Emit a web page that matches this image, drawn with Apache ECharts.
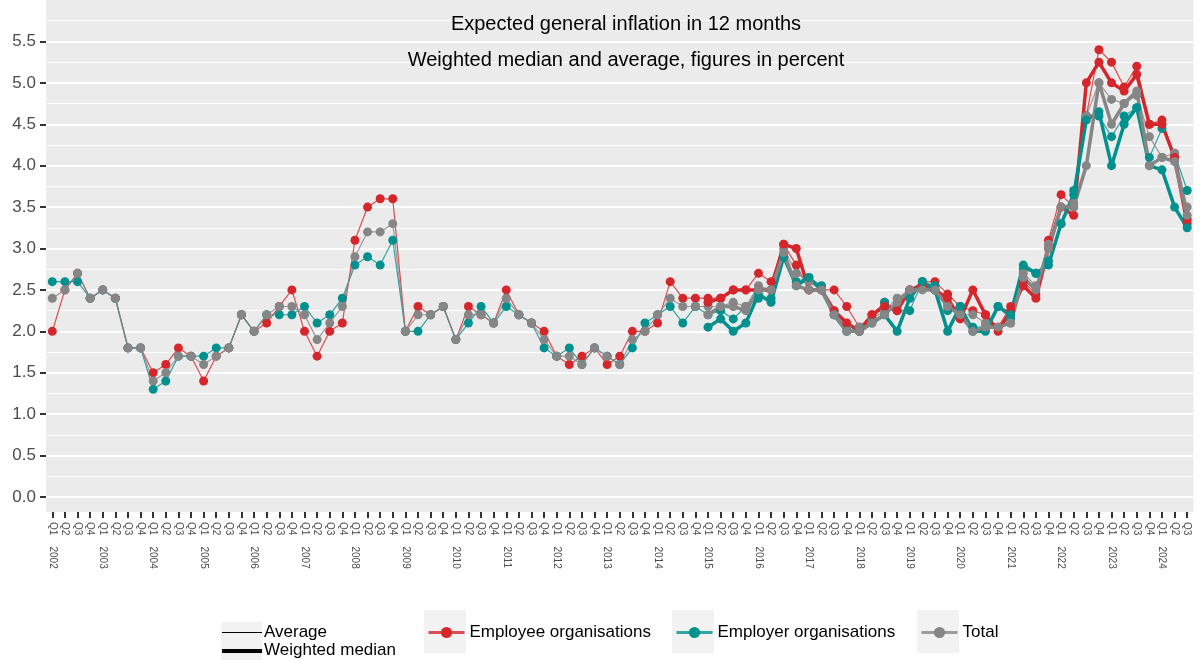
<!DOCTYPE html>
<html>
<head>
<meta charset="utf-8">
<script src="https://cdn.jsdelivr.net/npm/echarts@6/dist/echarts.min.js"></script>
<style>
  html, body { margin: 0; padding: 0; background: #fff; }
  #main { width: 1200px; height: 660px; }
</style>
</head>
<body>
<div id="main"></div>
<script>
// quarters Q1 2002 .. Q3 2024
const years = [2002, 2003, 2004, 2005, 2006, 2007, 2008, 2009, 2010, 2011, 2012, 2013,
  2014, 2015, 2016, 2017, 2018, 2019, 2020, 2021, 2022, 2023, 2024]
const quarterNames = ['Q1', 'Q2', 'Q3', 'Q4']
const yTicks = [0, 0.5, 1, 1.5, 2, 2.5, 3, 3.5, 4, 4.5, 5, 5.5]

// average, whole period
const employeeAvg = [
  2.0, 2.5, 2.7, 2.4, 2.5, 2.4, 1.8, 1.8, 1.5, 1.6, 1.8, 1.7,
  1.4, 1.7, 1.8, 2.2, 2.0, 2.1, 2.3, 2.5, 2.0, 1.7, 2.0, 2.1,
  3.1, 3.5, 3.6, 3.6, 2.0, 2.3, 2.2, 2.3, 1.9, 2.3, 2.2, 2.1,
  2.5, 2.2, 2.1, 2.0, 1.7, 1.6, 1.7, 1.8, 1.6, 1.7, 2.0, 2.0,
  2.1, 2.6, 2.4, 2.4,
  2.4, 2.4, 2.5, 2.5, 2.7, 2.6, 3.05, 2.8, 2.5, 2.5, 2.5, 2.3,
  2.05, 2.2, 2.35, 2.25, 2.5, 2.6, 2.6, 2.45, 2.3, 2.25, 2.2, 2.05,
  2.3, 2.6, 2.45, 3.1, 3.65, 3.5, 4.6, 5.4, 5.25, 4.95, 5.2, 4.5,
  4.55, 4.1, 3.35
]
const employerAvg = [
  2.6, 2.6, 2.6, 2.4, 2.5, 2.4, 1.8, 1.8, 1.3, 1.4, 1.7, 1.7,
  1.7, 1.8, 1.8, 2.2, 2.0, 2.2, 2.2, 2.2, 2.3, 2.1, 2.2, 2.4,
  2.8, 2.9, 2.8, 3.1, 2.0, 2.0, 2.2, 2.3, 1.9, 2.1, 2.3, 2.1,
  2.3, 2.2, 2.1, 1.8, 1.7, 1.8, 1.6, 1.8, 1.7, 1.6, 1.8, 2.1,
  2.2, 2.3, 2.1, 2.3,
  2.2, 2.25, 2.15, 2.3, 2.4, 2.4, 2.9, 2.6, 2.65, 2.55, 2.2, 2.05,
  2.05, 2.15, 2.35, 2.25, 2.25, 2.6, 2.55, 2.25, 2.3, 2.05, 2.05, 2.3,
  2.15, 2.75, 2.7, 2.85, 3.3, 3.7, 4.6, 4.6, 4.35, 4.6, 4.7, 4.1,
  4.45, 4.15, 3.7
]
const totalAvg = [
  2.4, 2.5, 2.7, 2.4, 2.5, 2.4, 1.8, 1.8, 1.4, 1.5, 1.7, 1.7,
  1.6, 1.7, 1.8, 2.2, 2.0, 2.2, 2.3, 2.3, 2.2, 1.9, 2.1, 2.3,
  2.9, 3.2, 3.2, 3.3, 2.0, 2.2, 2.2, 2.3, 1.9, 2.2, 2.2, 2.1,
  2.4, 2.2, 2.1, 1.9, 1.7, 1.7, 1.6, 1.8, 1.7, 1.6, 1.9, 2.0,
  2.2, 2.4, 2.3, 2.3,
  2.3, 2.3, 2.35, 2.3, 2.55, 2.5, 3.0, 2.7, 2.6, 2.5, 2.25, 2.05,
  2.05, 2.15, 2.25, 2.4, 2.5, 2.55, 2.5, 2.3, 2.2, 2.2, 2.1, 2.05,
  2.1, 2.7, 2.55, 3.05, 3.5, 3.55, 4.6, 5.0, 4.8, 4.75, 4.85, 4.35,
  4.1, 4.15, 3.5
]

// weighted median, from Q1 2015
const medianStart = 'Q1 2015'
const employeeMed = [
  2.35, 2.4, 2.5, 2.5, 2.5, 2.5, 3.05, 3.0, 2.5, 2.5, 2.25, 2.1,
  2.0, 2.2, 2.3, 2.25, 2.5, 2.55, 2.5, 2.4, 2.15, 2.5, 2.2, 2.0,
  2.25, 2.55, 2.4, 3.0, 3.5, 3.4, 5.0, 5.25, 5.0, 4.9, 5.1, 4.5,
  4.5, 4.1, 3.3
]
const employerMed = [
  2.05, 2.15, 2.0, 2.1, 2.45, 2.35, 2.9, 2.55, 2.65, 2.5, 2.2, 2.0,
  2.0, 2.1, 2.2, 2.0, 2.4, 2.6, 2.5, 2.0, 2.3, 2.0, 2.0, 2.3,
  2.2, 2.8, 2.7, 2.8, 3.3, 3.65, 4.55, 4.65, 4.0, 4.5, 4.7, 4.0,
  3.95, 3.5, 3.25
]
const totalMed = [
  2.2, 2.3, 2.3, 2.25, 2.5, 2.5, 2.95, 2.55, 2.5, 2.5, 2.2, 2.0,
  2.0, 2.1, 2.2, 2.35, 2.5, 2.5, 2.5, 2.3, 2.2, 2.0, 2.05, 2.05,
  2.1, 2.65, 2.5, 3.0, 3.5, 3.5, 4.0, 5.0, 4.5, 4.75, 4.9, 4.0,
  4.1, 4.05, 3.4
]

const quarters = []
years.forEach(y => quarterNames.forEach(q => quarters.push(q + ' ' + y)))
quarters.length = employeeAvg.length

const RED = '#D5262C'
const TEAL = '#00918F'
const GRAY = '#868686'
const FONT = 'Liberation Sans, Arial, sans-serif'

function padMedian(arr) {
  const start = quarters.indexOf(medianStart)
  return quarters.map((q, i) => (i < start ? null : arr[i - start]))
}

function avgSeries(name, color, data) {
  return {
    name: name,
    type: 'line',
    data: data,
    symbol: 'circle',
    symbolSize: 9,
    showAllSymbol: true,
    itemStyle: { color: color },
    lineStyle: { width: 1.2, color: color, opacity: 0.8 },
    emphasis: { disabled: true },
    animation: false
  }
}

function medSeries(name, color, data) {
  return {
    name: name,
    type: 'line',
    data: padMedian(data),
    symbol: 'circle',
    symbolSize: 9,
    showAllSymbol: true,
    connectNulls: false,
    itemStyle: { color: color },
    lineStyle: { width: 3.5, color: color },
    emphasis: { disabled: true },
    animation: false
  }
}

function legendFor(name, left) {
  return {
    data: [name],
    left: left,
    top: 619,
    itemWidth: 36,
    itemHeight: 14,
    selectedMode: false,
    lineStyle: { width: 3 },
    textStyle: { fontSize: 17, color: '#000', fontFamily: FONT }
  }
}

const chart = echarts.init(document.getElementById('main'))

chart.setOption({
  backgroundColor: '#fff',
  animation: false,
  textStyle: { fontFamily: FONT },
  title: {
    text: 'Expected general inflation in 12 months',
    subtext: 'Weighted median and average, figures in percent',
    left: 621,
    textAlign: 'center',
    top: 9,
    itemGap: 16,
    textStyle: { fontSize: 20, fontWeight: 'normal', color: '#000', fontFamily: FONT },
    subtextStyle: { fontSize: 20, color: '#000', fontFamily: FONT }
  },
  grid: {
    left: 46,
    right: 6.5,
    top: -4,
    bottom: 163,
    show: true,
    borderWidth: 0,
    backgroundColor: '#EBEBEB'
  },
  xAxis: {
    type: 'category',
    data: quarters,
    boundaryGap: true,
    offset: 15,
    axisLine: { show: false, onZero: false },
    axisTick: {
      show: true,
      alignWithLabel: true,
      interval: 0,
      length: 6,
      lineStyle: { color: '#333', width: 2 }
    },
    axisLabel: {
      interval: 0,
      rotate: -90,
      margin: 10,
      fontSize: 10,
      color: '#4D4D4D',
      fontFamily: FONT,
      formatter: function (v) {
        const parts = v.split(' ')
        return parts[0] === 'Q1' ? parts[0] + '    ' + parts[1] : parts[0]
      }
    },
    splitLine: { show: false }
  },
  yAxis: {
    type: 'value',
    min: 0,
    max: 6,
    interval: 0.5,
    axisLine: { show: false },
    axisTick: { show: true, length: 6, customValues: yTicks, lineStyle: { color: '#333', width: 2 } },
    axisLabel: {
      margin: 10,
      fontSize: 17,
      color: '#4D4D4D',
      fontFamily: FONT,
      customValues: yTicks,
      formatter: function (v) {
        return yTicks.indexOf(v) >= 0 ? v.toFixed(1) : ''
      }
    },
    splitLine: { show: true, lineStyle: { color: '#fff', width: 2 } },
    minorTick: { show: false, splitNumber: 2 },
    minorSplitLine: { show: true, lineStyle: { color: '#fff', width: 1.2 } }
  },
  legend: [
    legendFor('Employee organisations', 422),
    legendFor('Employer organisations', 670),
    legendFor('Total', 915)
  ],
  graphic: [
    // panel strip below zero
    { type: 'rect', left: 46, top: 497, shape: { width: 1147.5, height: 15 }, style: { fill: '#EBEBEB' }, silent: true, z: -10 },
    // legend key backgrounds
    { type: 'rect', left: 221, top: 622, shape: { width: 41, height: 38 }, style: { fill: '#F2F2F2' }, silent: true, z: -10 },
    { type: 'rect', left: 424, top: 610, shape: { width: 42, height: 43 }, style: { fill: '#F2F2F2' }, silent: true, z: -10 },
    { type: 'rect', left: 672, top: 610, shape: { width: 42, height: 43 }, style: { fill: '#F2F2F2' }, silent: true, z: -10 },
    { type: 'rect', left: 917, top: 610, shape: { width: 42, height: 43 }, style: { fill: '#F2F2F2' }, silent: true, z: -10 },
    // linetype legend
    { type: 'line', shape: { x1: 222, y1: 632.5, x2: 262, y2: 632.5 }, style: { stroke: '#000', lineWidth: 1 }, silent: true },
    { type: 'line', shape: { x1: 222, y1: 651, x2: 262, y2: 651 }, style: { stroke: '#000', lineWidth: 4 }, silent: true },
    { type: 'text', left: 264, top: 624, style: { text: 'Average', fontSize: 17, fill: '#000', fontFamily: FONT }, silent: true },
    { type: 'text', left: 264, top: 642, style: { text: 'Weighted median', fontSize: 17, fill: '#000', fontFamily: FONT }, silent: true }
  ],
  series: [
    avgSeries('Employee organisations', RED, employeeAvg),
    avgSeries('Employer organisations', TEAL, employerAvg),
    avgSeries('Total', GRAY, totalAvg),
    medSeries('Employee organisations', RED, employeeMed),
    medSeries('Employer organisations', TEAL, employerMed),
    medSeries('Total', GRAY, totalMed)
  ]
})
</script>
</body>
</html>
